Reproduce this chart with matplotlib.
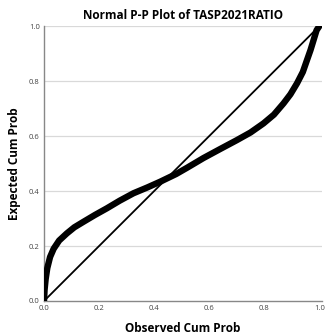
import matplotlib.pyplot as plt

# observed vs expected cumulative probability
observed = [0.0, 0.002, 0.006, 0.012, 0.022, 0.035, 0.055, 0.083, 0.11, 0.143,
            0.185, 0.228, 0.275, 0.325, 0.375, 0.422, 0.48, 0.52, 0.579, 0.64,
            0.70, 0.75, 0.797, 0.835, 0.87, 0.895, 0.919, 0.94, 0.955, 0.968,
            0.979, 0.99, 1.0]
expected = [0.0, 0.04, 0.08, 0.12, 0.16, 0.19, 0.22, 0.246, 0.268, 0.288,
            0.313, 0.337, 0.365, 0.392, 0.413, 0.434, 0.462, 0.485, 0.52, 0.553,
            0.585, 0.613, 0.646, 0.678, 0.719, 0.752, 0.792, 0.833, 0.876, 0.913,
            0.949, 0.985, 1.0]
diag = [0.0, 1.0]
ticks = [0.0, 0.2, 0.4, 0.6, 0.8, 1.0]
tick_labels = ["0.0", "0.2", "0.4", "0.6", "0.8", "1.0"]

plt.rcParams['font.family'] = ['Open Sans', 'DejaVu Sans']

fig = plt.figure(figsize=(3.26, 3.35), dpi=100)
ax = fig.add_axes([0.135, 0.1015, 0.853, 0.8205])

# grid lines at the y ticks
for t in ticks[1:]:
    ax.axhline(t, color='#d9d9d9', lw=0.9, zorder=0)

ax.plot(diag, diag, color='black', lw=1.3, zorder=2)
ax.plot(observed, expected, color='black', lw=4.6, solid_capstyle='round',
        solid_joinstyle='round', zorder=3)

ax.set_xlim(0, 1.01)
ax.set_ylim(0, 1.0)
ax.set_xticks(ticks)
ax.set_xticklabels(tick_labels)
ax.set_yticks(ticks)
ax.set_yticklabels(tick_labels)
ax.tick_params(length=0, labelsize=5.5, labelcolor='#444444', pad=3)

for s in ['top', 'right']:
    ax.spines[s].set_visible(False)
for s in ['left', 'bottom']:
    ax.spines[s].set_color('#888888')
    ax.spines[s].set_linewidth(1.0)

ax.set_title("Normal P-P Plot of TASP2021RATIO", fontsize=8.5, fontweight='bold', pad=5)
ax.set_xlabel("Observed Cum Prob", fontsize=8.5, fontweight='bold', labelpad=7)
ax.set_ylabel("Expected Cum Prob", fontsize=8.5, fontweight='bold', labelpad=6)

fig.savefig("out.png", dpi=100)
